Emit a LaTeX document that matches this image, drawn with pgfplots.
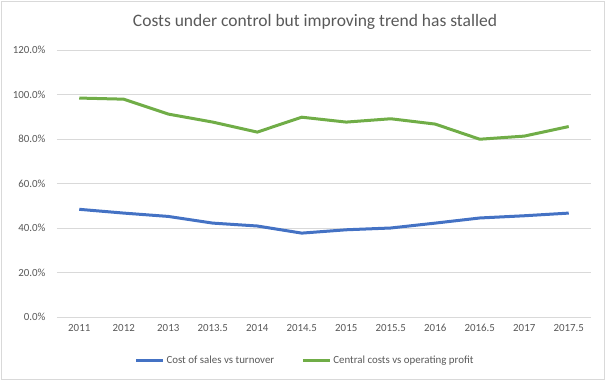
\documentclass[border=0pt]{standalone}
\usepackage{pgfplots}
\pgfplotsset{compat=1.18}
\usepackage{fontspec}
\setmainfont{Carlito}
\definecolor{cblue}{HTML}{4472C4}
\definecolor{cgreen}{HTML}{70AD47}
\definecolor{gridc}{HTML}{D9D9D9}
\definecolor{txt}{HTML}{595959}
\begin{document}
\begin{tikzpicture}[x=1pt,y=1pt]
\useasboundingbox (0,0) rectangle (608,381);
\draw[gridc, line width=0.75pt] (1.5,1.5) rectangle (604.5,379.5);
\node[text=txt, font=\fontsize{17.5}{21}\selectfont] at (315,359) {Costs under control but improving trend has stalled};
\begin{axis}[
  at={(57pt,64pt)}, anchor=south west,
  scale only axis, width=534pt, height=267pt,
  xmin=-0.5, xmax=11.5, ymin=0, ymax=120,
  xtick={0,...,11},
  xticklabels={2011,2012,2013,2013.5,2014,2014.5,2015,2015.5,2016,2016.5,2017,2017.5},
  ytick={0,20,...,120},
  yticklabel={\pgfmathprintnumber[fixed,fixed zerofill,precision=1]{\tick}\%},
  /pgf/number format/assume math mode=true,
  xmajorgrids=false, ymajorgrids=true,
  y grid style={gridc, line width=0.75pt},
  axis line style={draw=none},
  major tick length=0pt,
  tick label style={text=txt, font=\fontsize{10.9}{13}\selectfont},
  xticklabel style={yshift=-4pt},
  yticklabel style={xshift=-8pt},
  legend columns=2,
  legend style={at={(0.4644,-0.162)}, anchor=center, draw=none, fill=none,
    font=\fontsize{10.9}{13}\selectfont, text=txt,
    /tikz/every even column/.append style={column sep=25pt},
    inner sep=0pt},
  legend image code/.code={\draw[#1, line width=3pt] (0pt,0pt) -- (27pt,0pt);},
  legend cell align=left,
]
\addplot[cblue, line width=3pt, line join=round] coordinates {
(0,48.4) (1,46.7) (2,45.2) (3,42.2) (4,40.9) (5,37.7) (6,39.2) (7,40.0) (8,42.2) (9,44.5) (10,45.5) (11,46.7)};
\addlegendentry{Cost of sales vs turnover}
\addplot[cgreen, line width=3pt, line join=round] coordinates {
(0,98.4) (1,97.9) (2,91.2) (3,87.6) (4,83.1) (5,89.8) (6,87.6) (7,89.1) (8,86.7) (9,79.9) (10,81.3) (11,85.6)};
\addlegendentry{Central costs vs operating profit}
\end{axis}
\end{tikzpicture}
\end{document}
